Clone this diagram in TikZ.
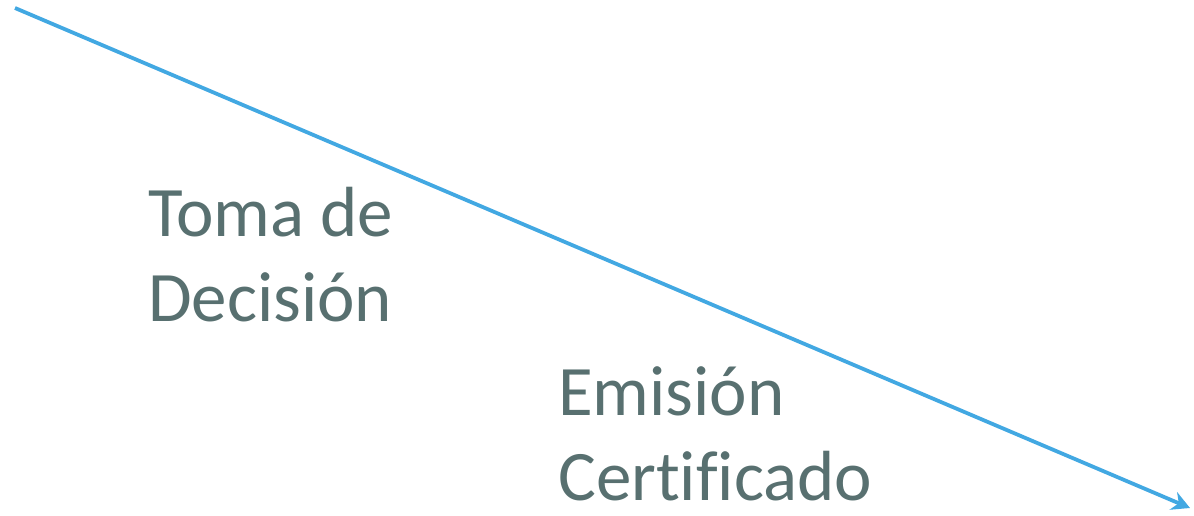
\documentclass[tikz,border=0pt]{standalone}
\usepackage{fontspec}
\setmainfont[Ligatures={NoCommon}]{Carlito}
\usetikzlibrary{arrows.meta}
\definecolor{txtgray}{RGB}{88,112,112}
\definecolor{lineblue}{RGB}{66,168,226}
\tikzset{lbl/.style={anchor=base west,inner sep=0pt,align=left,text=txtgray,font=\fontsize{71bp}{85bp}\selectfont}}
\begin{document}
\begin{tikzpicture}[>={Stealth[length=18bp,width=19bp]},line join=bevel,y=-1bp,x=1bp]
%%
\useasboundingbox (0,0) rectangle (1194,516);
\coordinate (start) at (15,8);
\coordinate (tip) at (1190,508);
  \node (toma) at (148,322) [lbl] {Toma de\\Decisión};
  \node (emision) at (558,500) [lbl] {Emisión\\Certificado};
  \draw [lineblue,line width=3.8bp,->] (start) -- (tip);
%
\end{tikzpicture}
\end{document}
